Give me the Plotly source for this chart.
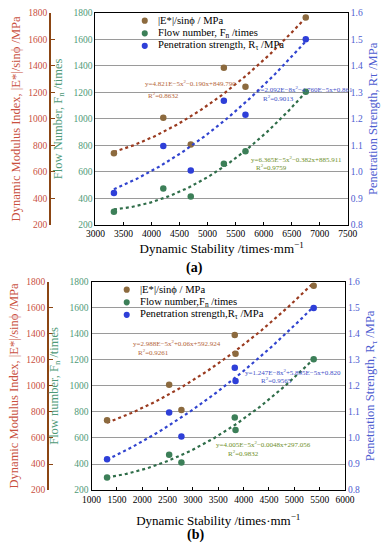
import numpy as np
import plotly.graph_objects as go

# ---------------- data: panel (a) ----------------
ds_a = [3330, 4210, 4700, 5290, 5675, 6750]
mod_a = [740, 1008, 806, 1386, 1243, 1765]
flow_a = [300, 474, 415, 661, 755, 1205]
pen_a = [0.920, 1.098, 1.005, 1.268, 1.216, 1.500]
eq_a = ["y=4.821E−5x<sup>2</sup>−0.190x+849.790", "y=6.365E−5x<sup>2</sup>−0.382x+885.911",
        "y=2.092E−8x<sup>2</sup>−4.760E−5x+0.861"]
r2_a = ["R<sup>2</sup>=0.8632", "R<sup>2</sup>=0.9759", "R<sup>2</sup>=0.9013"]
names_a = ["|E*|/sinϕ / MPa", "Flow number, F<sub>n</sub> /times", "Penetration strength, R<sub>τ</sub> /MPa"]

# ---------------- data: panel (b) ----------------
ds_b = [1305, 2530, 2772, 3825, 3840, 5382]
mod_b = [737, 1009, 816, 1391, 1247, 1770]
flow_b = [296, 471, 411, 758, 662, 1205]
pen_b = [0.918, 1.098, 1.006, 1.270, 1.219, 1.500]
eq_b = ["y=2.988E−5x<sup>2</sup>+0.06x+592.924", "y=4.005E−5x<sup>2</sup>−0.0048x+297.056",
        "y=1.247E−8x<sup>2</sup>+5.895E−5x+0.820"]
r2_b = ["R<sup>2</sup>=0.9261", "R<sup>2</sup>=0.9832", "R<sup>2</sup>=0.9565"]
names_b = ["|E*|/sinϕ / MPa", "Flow number,F<sub>n</sub> /times", "Penetration strength,R<sub>τ</sub> /MPa"]

W, H = 392, 550
FONT = "Liberation Serif"
C_MOD_PT, C_MOD_LN, C_MOD_TX = "#8c6a3e", "#9a3b20", "#c9503e"
C_FLOW_PT, C_FLOW_LN, C_FLOW_TX = "#3c7f58", "#2f6d49", "#4f9a78"
C_PEN_PT, C_PEN_LN, C_PEN_TX = "#2e3fd8", "#3144cf", "#4d5cd0"
C_PTS = [C_MOD_PT, C_FLOW_PT, C_PEN_PT]
C_EQ = ["#b4653a", "#6f8f2a", "#3e50c8"]


def px(x):
    return x / W


def py(y):
    return 1 - y / H


def trend(xs, ys):
    c = np.polyfit(xs, ys, 2)
    xx = np.linspace(min(xs), max(xs), 120)
    return xx, np.polyval(c, xx)


fig = go.Figure()

# y (flow, base, with grid) / y2 (modulus, free) / y3 (penetration, right)
panels = [
    dict(x=ds_a, m=mod_a, f=flow_a, p=pen_a, xa="x", yf="y", ym="y2", yp="y3", names=names_a),
    dict(x=ds_b, m=mod_b, f=flow_b, p=pen_b, xa="x2", yf="y4", ym="y5", yp="y6", names=names_b),
]

for P in panels:
    for ys, ya, cpt, cln, nm in [(P["m"], P["ym"], C_MOD_PT, C_MOD_LN, P["names"][0]),
                                 (P["f"], P["yf"], C_FLOW_PT, C_FLOW_LN, P["names"][1]),
                                 (P["p"], P["yp"], C_PEN_PT, C_PEN_LN, P["names"][2])]:
        xx, yy = trend(P["x"], ys)
        fig.add_trace(go.Scatter(x=xx, y=yy, mode="lines", xaxis=P["xa"], yaxis=ya,
                                 line=dict(color=cln, width=2.2, dash="dot"), showlegend=False,
                                 hoverinfo="skip"))
        fig.add_trace(go.Scatter(x=P["x"], y=ys, mode="markers", xaxis=P["xa"], yaxis=ya,
                                 marker=dict(color=cpt, size=6.5), name=nm, showlegend=False))


def xaxis_cfg(dom, rng, anchor, standoff):
    return dict(domain=dom, range=rng, dtick=500, anchor=anchor, showline=True, linecolor="black",
                linewidth=1.2, mirror=True, ticks="inside", ticklen=3, tickcolor="black",
                showgrid=False, zeroline=False, tickfont=dict(family=FONT, size=9.5, color="black"),
                title=dict(text="Dynamic Stability /times·mm<sup>−1</sup>",
                           font=dict(family=FONT, size=13, color="black"), standoff=standoff))


def yflow_cfg(dom, anchor, title):
    return dict(domain=dom, anchor=anchor, side="left", range=[200, 1800], dtick=200,
                showline=True, linecolor="black", linewidth=1.2, ticks="",
                showgrid=True, gridcolor="#9a9a9a", gridwidth=1,
                zeroline=False, tickfont=dict(family=FONT, size=9.5, color=C_FLOW_TX),
                title=dict(text=title, font=dict(family=FONT, size=12.5, color=C_FLOW_TX), standoff=8))


def ymod_cfg(base, pos, title):
    return dict(overlaying=base, range=[200, 1800], dtick=200, anchor="free", position=pos, side="left",
                showline=True, linecolor="#8B4513", linewidth=1.5, ticks="inside", ticklen=4,
                tickcolor="#8B4513", tickfont=dict(family=FONT, size=9.5, color=C_MOD_TX),
                showgrid=False, zeroline=False,
                title=dict(text=title, font=dict(family=FONT, size=12.5, color=C_MOD_TX), standoff=4))


def ypen_cfg(base, anchor, title):
    return dict(overlaying=base, anchor=anchor, side="right", range=[0.8, 1.6], dtick=0.1,
                tickformat=".1f", showline=True, linecolor="black", linewidth=1.2, ticks="",
                showgrid=False, zeroline=False, tickfont=dict(family=FONT, size=9.5, color=C_PEN_TX),
                title=dict(text=title, font=dict(family=FONT, size=12.5, color=C_PEN_TX), standoff=6))


fig.update_layout(
    width=W, height=H, margin=dict(l=0, r=0, t=0, b=0),
    plot_bgcolor="white", paper_bgcolor="white",
    font=dict(family=FONT, size=10, color="black"),
    showlegend=False,
    xaxis=xaxis_cfg([px(90), px(356)], [3000, 7500], "y", 5),
    yaxis=yflow_cfg([py(224), py(8)], "x", "Flow Number, F<sub>n</sub> /times"),
    yaxis2=ymod_cfg("y", px(42), "Dynamic Modulus Index, |E*|/sinϕ /MPa"),
    yaxis3=ypen_cfg("y", "x", "Penetration Strength, Rτ /MPa"),
    xaxis2=xaxis_cfg([px(86), px(353)], [1000, 6000], "y4", 12),
    yaxis4=yflow_cfg([py(494), py(282)], "x2", "Flow number, F<sub>n</sub> /times"),
    yaxis5=ymod_cfg("y4", px(40), "Dynamic Modulus Index, |E*|/sinϕ /MPa"),
    yaxis6=ypen_cfg("y4", "x2", "Penetration Strength, R<sub>τ</sub> /MPa"),
)

shapes = []
anns = []
# legend keys (marker swatch + label)
for names, (lx, ly0) in [(names_a, (142, 16)), (names_b, (123, 290))]:
    for i, nm in enumerate(names):
        cy = ly0 + i * 12.8
        shapes.append(dict(type="circle", xref="paper", yref="paper",
                           x0=px(lx - 3.2), x1=px(lx + 3.2), y0=py(cy + 3.2), y1=py(cy - 3.2),
                           fillcolor=C_PTS[i], line=dict(width=0), layer="above"))
        anns.append(dict(x=px(lx + 12), y=py(cy), xref="paper", yref="paper", text=nm, showarrow=False,
                         xanchor="left", yanchor="middle", font=dict(family=FONT, size=10.6, color="black")))

# equation annotations (left-anchored positions in pixels)
eq_pos_a = [((140, 80), (143, 92)), ((252, 157), (257, 166)), ((258, 86), (265, 95))]
eq_pos_b = [((128, 345), (133, 354)), ((215, 448), (228, 457)), ((245, 374), (262, 382))]
for eqs, r2s, poss in [(eq_a, r2_a, eq_pos_a), (eq_b, r2_b, eq_pos_b)]:
    for i in range(3):
        (ex, ey), (rx, ry) = poss[i]
        anns.append(dict(x=px(ex), y=py(ey), xref="paper", yref="paper", text=eqs[i], showarrow=False,
                         xanchor="left", yanchor="middle", font=dict(family=FONT, size=7, color=C_EQ[i])))
        anns.append(dict(x=px(rx), y=py(ry), xref="paper", yref="paper", text=r2s[i], showarrow=False,
                         xanchor="left", yanchor="middle", font=dict(family=FONT, size=7, color=C_EQ[i])))
anns.append(dict(x=px(194), y=py(268), xref="paper", yref="paper", text="<b>(a)</b>", showarrow=False,
                 xanchor="center", yanchor="middle", font=dict(family=FONT, size=14, color="black")))
anns.append(dict(x=px(195), y=py(540), xref="paper", yref="paper", text="<b>(b)</b>", showarrow=False,
                 xanchor="center", yanchor="middle", font=dict(family=FONT, size=14, color="black")))
fig.update_layout(annotations=anns, shapes=shapes)

fig.write_html("out.html", config={"displayModeBar": False},
               post_script="document.body.style.margin='0';document.body.style.overflow='hidden';")
